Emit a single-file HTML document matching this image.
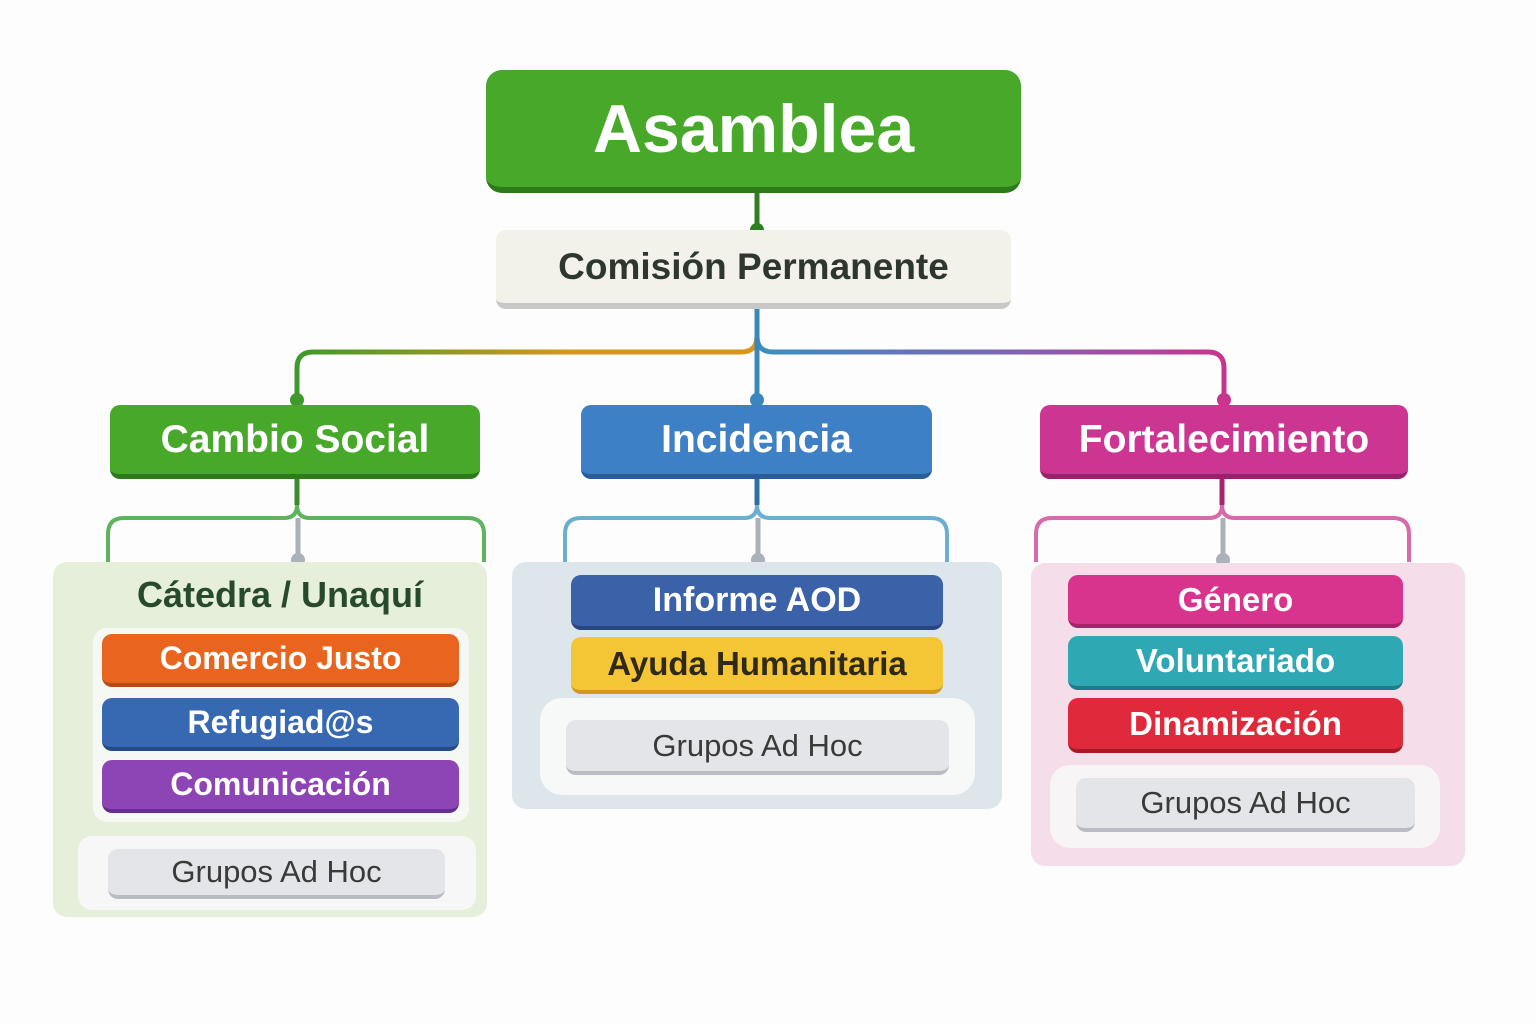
<!DOCTYPE html><html><head><meta charset="utf-8"><style>
*{margin:0;padding:0;box-sizing:border-box}
body{width:1536px;height:1024px;background:#fdfdfd;position:relative;overflow:hidden;font-family:"Liberation Sans","DejaVu Sans",sans-serif}
.b{position:absolute;display:flex;align-items:center;justify-content:center;border-radius:10px;font-weight:bold;color:#fff;white-space:nowrap}
.p{position:absolute;border-radius:14px}
.g{background:#e4e5e8;color:#3a3a3a;font-weight:normal;border-bottom:4px solid #b9bcc2}
</style></head><body>
<svg width="1536" height="1024" style="position:absolute;left:0;top:0">
<defs>
<linearGradient id="lg" x1="0" x2="1"><stop offset="0" stop-color="#3e9a2c"/><stop offset="0.6" stop-color="#d9961c"/><stop offset="1" stop-color="#d9961c"/></linearGradient>
<linearGradient id="rg" x1="0" x2="1"><stop offset="0" stop-color="#3b8ec0"/><stop offset="0.5" stop-color="#7a68b8"/><stop offset="1" stop-color="#c8358f"/></linearGradient>
</defs>
<g fill="none" stroke-width="5">
<path d="M757 192 V230" stroke="#2f7f22"/>
<path d="M757 308 V336 Q757 352 741 352 H313 Q297 352 297 368 V405" stroke="url(#lg)"/>
<path d="M757 308 V336 Q757 352 773 352 H1208 Q1224 352 1224 368 V405" stroke="url(#rg)"/>
<path d="M757 308 V405" stroke="#3a86bd"/>
<path d="M297 478 V505 Q297 518 284 518 H124 Q108 518 108 534 V562 M297 505 Q297 518 310 518 H468 Q484 518 484 534 V562" stroke="#5db45c" stroke-width="4"/>
<path d="M297 478 V505" stroke="#3c8a2c"/>
<path d="M298 518 V560" stroke="#aab1b8"/>
<path d="M757 478 V505 Q757 518 744 518 H581 Q565 518 565 534 V562 M757 505 Q757 518 770 518 H931 Q947 518 947 534 V562" stroke="#6aaed0" stroke-width="4"/>
<path d="M757 478 V505" stroke="#2f6fa8"/>
<path d="M758 518 V560" stroke="#aab1b8"/>
<path d="M1222 478 V505 Q1222 518 1209 518 H1052 Q1036 518 1036 534 V562 M1222 505 Q1222 518 1235 518 H1393 Q1409 518 1409 534 V562" stroke="#d76aa8" stroke-width="4"/>
<path d="M1222 478 V505" stroke="#a8246f"/>
<path d="M1223 518 V560" stroke="#aab1b8"/>
</g>
<circle cx="757" cy="230" r="7" fill="#2f7f22"/>
<circle cx="297" cy="400" r="7" fill="#3e9a2c"/><circle cx="757" cy="400" r="7" fill="#3a86bd"/><circle cx="1224" cy="400" r="7" fill="#c8358f"/>
<circle cx="298" cy="560" r="7" fill="#aab1b8"/><circle cx="758" cy="560" r="7" fill="#aab1b8"/><circle cx="1223" cy="560" r="7" fill="#aab1b8"/>
</svg>
<div class="b" style="left:486px;top:70px;width:535px;height:123px;background:#47a82a;border-bottom:6px solid #2c7a1c;border-radius:16px;font-size:68px">Asamblea</div>
<div class="b" style="left:496px;top:230px;width:515px;height:79px;background:#f3f2ea;border-bottom:6px solid #c8c9c6;color:#2e372e;font-size:37px">Comisión Permanente</div>
<div class="b" style="left:110px;top:405px;width:370px;height:74px;background:#47a82a;border-bottom:5px solid #2c7a1c;font-size:39px">Cambio Social</div>
<div class="b" style="left:581px;top:405px;width:351px;height:74px;background:#3d80c6;border-bottom:5px solid #2a5c9a;font-size:39px">Incidencia</div>
<div class="b" style="left:1040px;top:405px;width:368px;height:74px;background:#cc3592;border-bottom:5px solid #9a216b;font-size:39px">Fortalecimiento</div>

<div class="p" style="left:53px;top:562px;width:434px;height:355px;background:#e5efd9"></div>
<div class="b" style="left:53px;top:572px;width:454px;height:46px;color:#264a2b;font-size:36px">Cátedra / Unaquí</div>
<div class="p" style="left:93px;top:628px;width:376px;height:194px;background:#f6f8f3"></div>
<div class="b" style="left:102px;top:634px;width:357px;height:53px;background:#e8641f;border-bottom:4px solid #b84a12;font-size:32px">Comercio Justo</div>
<div class="b" style="left:102px;top:698px;width:357px;height:53px;background:#3768b2;border-bottom:4px solid #254a85;font-size:32px">Refugiad@s</div>
<div class="b" style="left:102px;top:760px;width:357px;height:53px;background:#8d45b6;border-bottom:4px solid #66308a;font-size:32px">Comunicación</div>
<div class="p" style="left:78px;top:836px;width:398px;height:74px;background:#f7f7f7"></div>
<div class="b g" style="left:108px;top:849px;width:337px;height:50px;font-size:31px">Grupos Ad Hoc</div>

<div class="p" style="left:512px;top:562px;width:490px;height:247px;background:#dde6ea"></div>
<div class="b" style="left:571px;top:575px;width:372px;height:55px;background:#3b61a8;border-bottom:4px solid #28467f;font-size:34px">Informe AOD</div>
<div class="b" style="left:571px;top:637px;width:372px;height:57px;background:#f4c535;border-bottom:4px solid #d09b1a;color:#2f2a18;font-size:33px">Ayuda Humanitaria</div>
<div class="p" style="left:540px;top:698px;width:435px;height:97px;background:#f7f8f8;border-radius:22px"></div>
<div class="b g" style="left:566px;top:720px;width:383px;height:55px;font-size:31px">Grupos Ad Hoc</div>

<div class="p" style="left:1031px;top:563px;width:434px;height:303px;background:#f5dde9"></div>
<div class="b" style="left:1068px;top:575px;width:335px;height:53px;background:#d9348d;border-bottom:4px solid #a7216b;font-size:33px">Género</div>
<div class="b" style="left:1068px;top:636px;width:335px;height:54px;background:#2ea8b3;border-bottom:4px solid #1f7c86;font-size:33px">Voluntariado</div>
<div class="b" style="left:1068px;top:698px;width:335px;height:55px;background:#e0293a;border-bottom:4px solid #a81a27;font-size:33px">Dinamización</div>
<div class="p" style="left:1050px;top:765px;width:390px;height:83px;background:#f8f5f7;border-radius:20px"></div>
<div class="b g" style="left:1076px;top:778px;width:339px;height:54px;font-size:31px">Grupos Ad Hoc</div>
</body></html>
